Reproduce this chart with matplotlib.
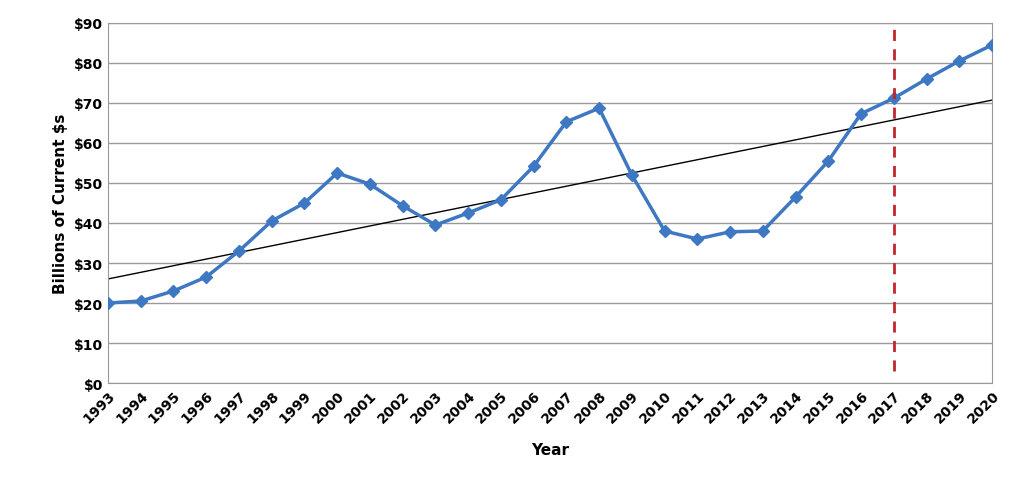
import matplotlib
matplotlib.use("Agg")
import matplotlib.pyplot as plt
import numpy as np

years = list(range(1993, 2021))
values = [20.0, 20.5, 23.0, 26.5, 33.0, 40.5, 45.0, 52.5, 49.7, 44.3, 39.5, 42.5, 45.8, 54.2,
          65.3, 68.7, 52.0, 38.0, 36.0, 37.8, 38.0, 46.5, 55.5, 67.3, 71.2, 76.0, 80.5, 84.5]
yticks = list(range(0, 100, 10))
forecast_year = 2017

fig = plt.figure(figsize=(10.24, 4.81), dpi=100)
ax = fig.add_axes([108/1024, 1-384/481, (992-108)/1024, (384-24)/481])
x = np.array(years)
coef = np.polyfit(x, values, 1)
ax.plot(x, np.polyval(coef, x), color="black", lw=1, zorder=2)
ax.plot(x, values, color="#3E78C2", lw=2.5, marker="D", ms=6.5, zorder=3)
ax.plot([forecast_year, forecast_year], [3, 90], color="#C0262D", lw=2, ls=(0, (4, 3)), zorder=4)
ax.set_xlim(1993, 2020)
ax.set_ylim(0, 90)
ax.set_yticks(yticks)
ax.set_yticklabels([f"${v}" for v in yticks], fontsize=10)
ax.set_xticks(years)
ax.set_xticklabels([str(y) for y in years], rotation=45, ha="right", rotation_mode="anchor", fontsize=10)
for lbl in ax.get_xticklabels() + ax.get_yticklabels():
    lbl.set_fontweight("semibold")
ax.yaxis.grid(True, color="#999999", lw=1)
ax.set_axisbelow(True)
for s in ax.spines.values():
    s.set_color("#999999")
ax.tick_params(length=0)
ax.set_xlabel("Year", fontsize=11, fontweight="bold", labelpad=12)
ax.set_ylabel("Billions of Current $s", fontsize=11, fontweight="bold")
fig.savefig("out.png", dpi=100)
